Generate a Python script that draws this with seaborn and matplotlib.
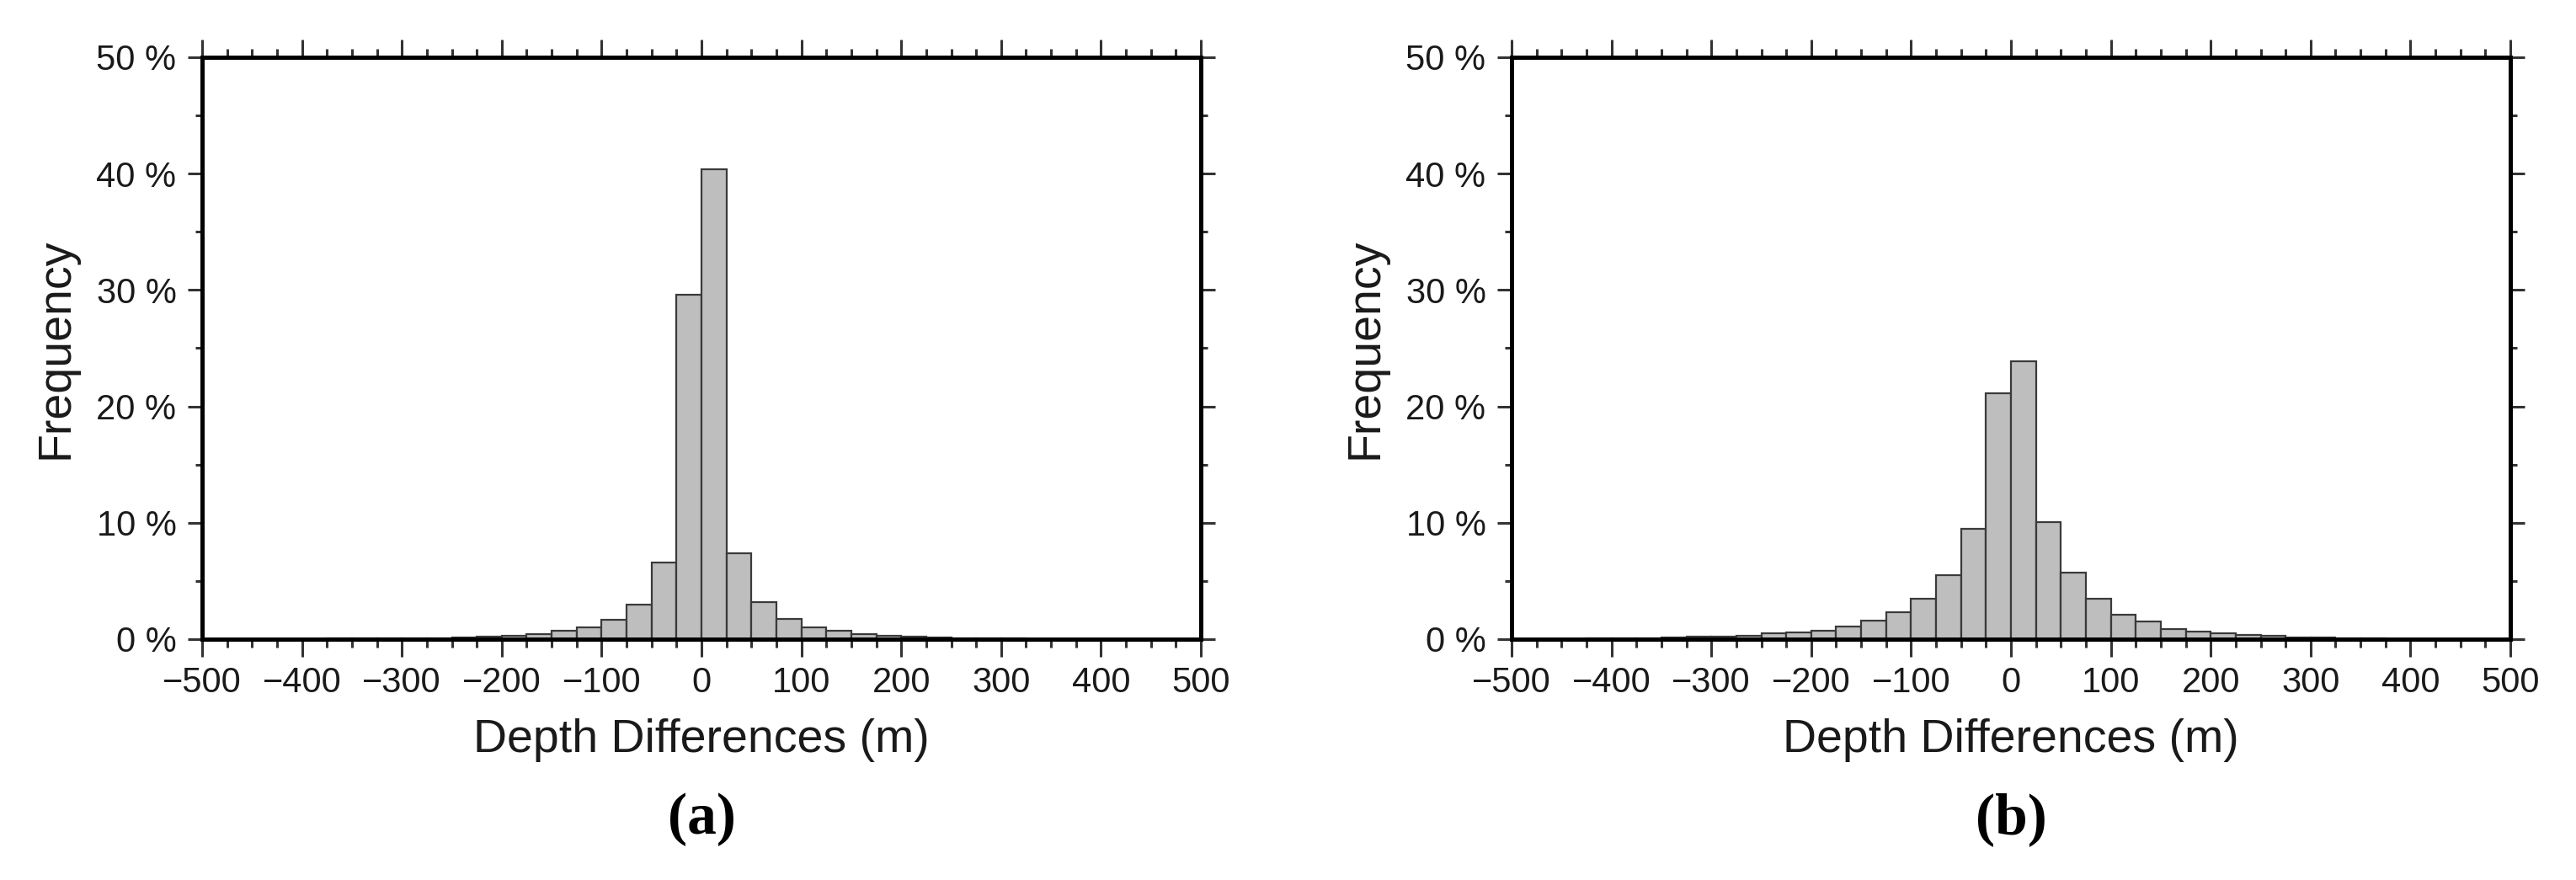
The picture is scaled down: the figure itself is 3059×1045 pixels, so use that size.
import numpy as np
import pandas as pd
import matplotlib
matplotlib.use("Agg")
import matplotlib.pyplot as plt
from matplotlib.ticker import MultipleLocator, FuncFormatter
import seaborn as sns

# ---- data ----
bin_edges = list(range(-500, 501, 25))
freq_a = [0.02, 0.02, 0.02, 0.03, 0.03, 0.04, 0.05, 0.06, 0.08, 0.10,
          0.15, 0.20, 0.30, 0.40, 0.70, 1.00, 1.65, 3.00, 6.60, 29.6,
          40.4, 7.35, 3.20, 1.75, 1.00, 0.70, 0.45, 0.30, 0.20, 0.12,
          0.08, 0.06, 0.04, 0.03, 0.03, 0.02, 0.02, 0.02, 0.01, 0.01]
freq_b = [0.02, 0.02, 0.03, 0.04, 0.05, 0.08, 0.12, 0.19, 0.24, 0.31,
          0.48, 0.60, 0.73, 1.09, 1.57, 2.30, 3.46, 5.50, 9.50, 21.1,
          23.9, 10.05, 5.70, 3.46, 2.10, 1.50, 0.90, 0.68, 0.50, 0.38,
          0.28, 0.18, 0.12, 0.08, 0.05, 0.03, 0.02, 0.02, 0.01, 0.01]
panel_labels = ["(a)", "(b)"]
x_label = "Depth Differences (m)"
y_label = "Frequency"

sns.set_theme(style="white")
plt.rcParams['font.family'] = ['Liberation Sans', 'DejaVu Sans']
plt.rcParams['axes.unicode_minus'] = True

fig = plt.figure(figsize=(30.59, 10.45), dpi=100)
lefts = [240 / 3059, 1795 / 3059]
width = 1186 / 3059
bottom = (1045 - 759) / 1045
height = 691 / 1045

centers = [(bin_edges[i] + bin_edges[i + 1]) / 2 for i in range(len(bin_edges) - 1)]

for k, (vals, lab) in enumerate(zip([freq_a, freq_b], panel_labels)):
    ax = fig.add_axes([lefts[k], bottom, width, height])
    df = pd.DataFrame({"x": centers, "w": vals})
    sns.histplot(data=df, x="x", weights="w", bins=bin_edges, stat="count",
                 color="#bebebe", edgecolor="#3a3a3a", linewidth=1.6,
                 alpha=1.0, ax=ax)
    ax.set_xlim(-500, 500)
    ax.set_ylim(0, 50)
    ax.xaxis.set_major_locator(MultipleLocator(100))
    ax.xaxis.set_minor_locator(MultipleLocator(25))
    ax.yaxis.set_major_locator(MultipleLocator(10))
    ax.yaxis.set_minor_locator(MultipleLocator(5))
    ax.yaxis.set_major_formatter(FuncFormatter(lambda v, p: f"{int(round(v))} %"))
    ax.tick_params(axis="both", which="both", direction="out",
                   top=True, right=True, bottom=True, left=True,
                   labeltop=False, labelright=False, color="#333333")
    ax.tick_params(axis="x", which="major", length=15, width=2.2,
                   labelsize=30, pad=8, labelcolor="#1a1a1a")
    ax.tick_params(axis="x", which="minor", length=7, width=2.2)
    ax.tick_params(axis="y", which="major", length=12, width=2.2,
                   labelsize=30, pad=10, labelcolor="#1a1a1a")
    ax.tick_params(axis="y", which="minor", length=6, width=2.2)
    for s in ax.spines.values():
        s.set_visible(True)
        s.set_color("black")
        s.set_linewidth(3.6)
        s.set_zorder(5)
    ax.set_xlabel(x_label, fontsize=40, color="#1a1a1a", labelpad=16)
    ax.set_ylabel(y_label, fontsize=40, color="#1a1a1a", labelpad=16)
    ax.text(0.5, -0.31, lab, transform=ax.transAxes, ha="center", va="center",
            fontsize=50, fontweight="bold", family=["Liberation Serif", "DejaVu Serif"],
            color="black")

fig.savefig("out.png", dpi=100, facecolor="white")
